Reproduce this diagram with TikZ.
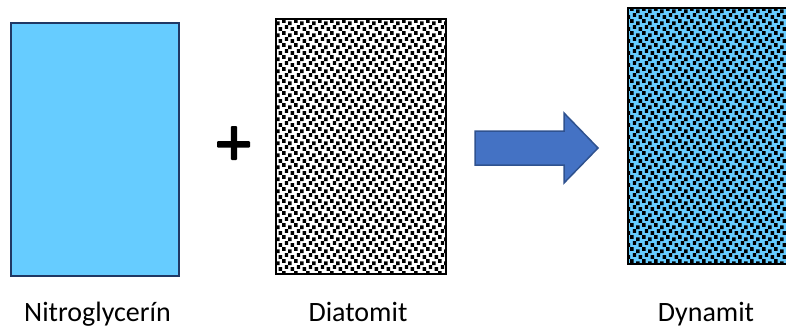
\documentclass[tikz,border=0pt]{standalone}
\usepackage{fontspec}
\setmainfont{Carlito}
\usetikzlibrary{patterns}
\pgfdeclarepatternformonly{confetti}{\pgfpoint{-1pt}{-1pt}}{\pgfpoint{13pt}{13pt}}{\pgfpoint{12pt}{12pt}}{%
  \pgfpathrectangle{\pgfpoint{0pt}{0pt}}{\pgfpoint{3.6pt}{3.6pt}}%
  \pgfpathrectangle{\pgfpoint{6pt}{2.2pt}}{\pgfpoint{3.6pt}{3.6pt}}%
  \pgfpathrectangle{\pgfpoint{2.6pt}{6.2pt}}{\pgfpoint{3.6pt}{3.6pt}}%
  \pgfpathrectangle{\pgfpoint{8.8pt}{8.2pt}}{\pgfpoint{3.2pt}{3.6pt}}%
  \pgfusepath{fill}}
\definecolor{lightblue}{HTML}{66CCFF}
\definecolor{navy}{HTML}{203864}
\definecolor{arrowblue}{HTML}{4472C4}
\definecolor{arrowedge}{HTML}{2F528F}
\tikzset{
  label/.style={font=\fontsize{28}{34}\selectfont, anchor=base, inner sep=0pt},
  plusbar/.style={fill=black, rounded corners=1pt}
}
\begin{document}
\begin{tikzpicture}[x=1pt,y=-1pt]
\useasboundingbox (0,0) rectangle (786,325);
% Nitroglycerin
\draw[navy, line width=2.6pt, fill=lightblue] (11,23) rectangle (179,276);
% Diatomit
\path[pattern=confetti, pattern color=black] (276,19) rectangle (446,274);
\draw[black, line width=2.6pt] (276,19) rectangle (446,274);
% Dynamit
\fill[lightblue] (628,8) rectangle (792,264);
\path[pattern=confetti, pattern color=black] (628,8) rectangle (792,264);
\draw[black, line width=2.6pt] (628,8) rectangle (792,264);
% plus
\fill[plusbar] (217,141) rectangle (250,147.5);
\fill[plusbar] (230.8,126) rectangle (237.2,160);
% block arrow
\draw[arrowedge, line width=1.5pt, fill=arrowblue, line join=miter]
  (475,131) -- (564,131) -- (564,113) -- (598,148) -- (564,183) -- (564,165) -- (475,165) -- cycle;
% labels
\node[label] (n1) at (97.5,321) {Nitroglycerín};
\node[label] (n2) at (358,321) {Diatomit};
\node[label] (n3) at (706,321) {Dynamit};
\end{tikzpicture}
\end{document}
